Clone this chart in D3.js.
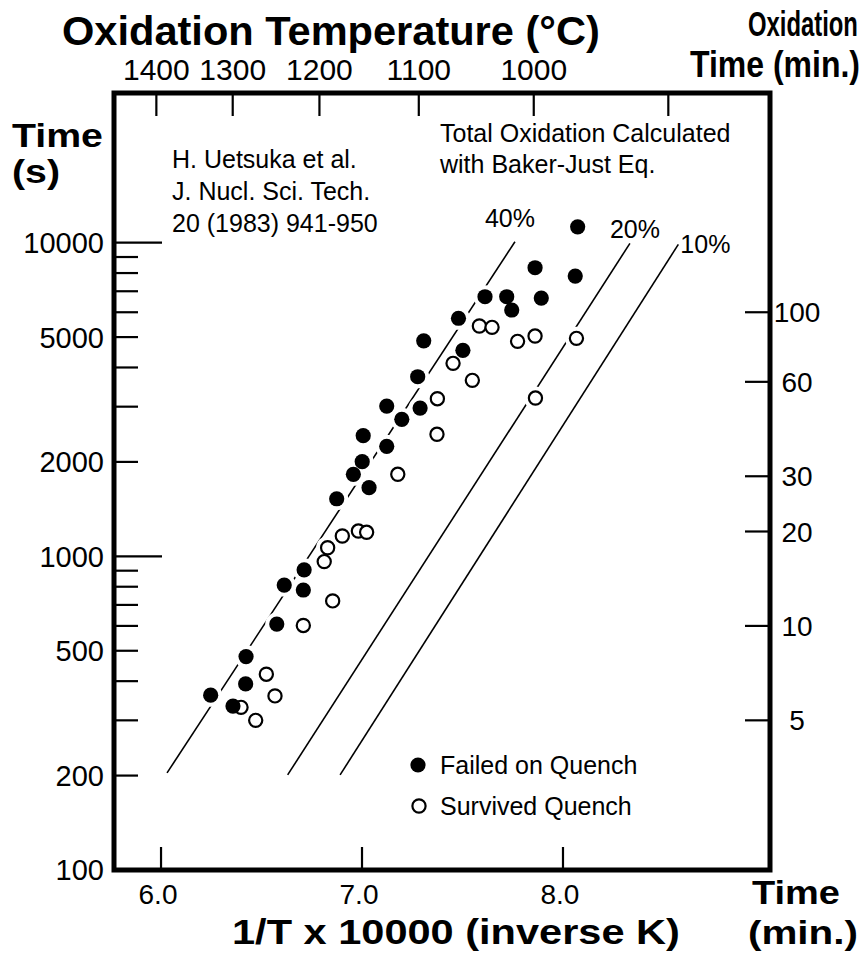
<!DOCTYPE html>
<html>
<head>
<meta charset="utf-8">
<script src="https://cdn.jsdelivr.net/npm/d3@7"></script>
<style>
  html, body { margin: 0; padding: 0; background: #fff; }
  svg { display: block; }
  text { font-family: "Liberation Sans", Arial, Helvetica, sans-serif; fill: #000; }
</style>
</head>
<body>
<svg id="chart" width="867" height="955"></svg>
<script>
// ---------------- DATA ----------------
// Failed on quench: x = 1/T x 10000 (1/K), t = oxidation time (s)
const failedX = [6.247, 6.358, 6.423, 6.421, 6.576, 6.613, 6.708, 6.712, 6.874, 6.957,
                 7.001, 7.006, 7.035, 7.123, 7.123, 7.198, 7.277, 7.289, 7.307, 7.480,
                 7.502, 7.612, 7.720, 7.745, 7.861, 7.892, 8.073, 8.061];
const failedT = [361, 333, 479, 392, 608, 810, 781, 906, 1526, 1826,
                 2003, 2424, 1655, 2242, 3014, 2734, 3737, 2970, 4864, 5741,
                 4537, 6724, 6724, 6099, 8318, 6659, 11236, 7825];
// Survived quench
const survivedX = [6.398, 6.471, 6.524, 6.567, 6.708, 6.854, 6.812, 6.829, 6.902, 6.982,
                   7.023, 7.178, 7.375, 7.373, 7.453, 7.549, 7.584, 7.647, 7.774, 7.861,
                   7.863, 8.067];
const survivedT = [330, 300, 421, 359, 602, 721, 962, 1065, 1161, 1204,
                   1193, 1826, 3180, 2449, 4123, 3640, 5424, 5370, 4846, 5039,
                   3196, 4954];
// Baker-Just total oxidation lines (end points)
const lineLabels = ["40%", "20%", "10%"];
const lineX0 = [6.030, 6.630, 6.891];
const lineT0 = [204, 201, 201];
const lineX1 = [7.761, 8.333, 8.574];
const lineT1 = [10067, 9949, 9877];

// Axes
const xTicks = [6, 7, 8];
const xTickLabels = ["6.0", "7.0", "8.0"];
const leftLabelValues = [100, 200, 500, 1000, 2000, 5000, 10000];
const leftLongTicks = [1000, 10000];
const tempTicksC = [1400, 1300, 1200, 1100, 1000, 900];
const tempTickLabels = ["1400", "1300", "1200", "1100", "1000", ""];
const minuteTicks = [100, 60, 30, 20, 10, 5];

const citation = ["H. Uetsuka et al.", "J. Nucl. Sci. Tech.", "20 (1983) 941-950"];
const noteLines = ["Total Oxidation Calculated", "with Baker-Just Eq."];
const legendLabels = ["Failed on Quench", "Survived Quench"];

// ---------------- CHART ----------------
const svg = d3.select("#chart");
const L = 114, R = 770, T = 93, B = 870;

const x = d3.scaleLinear().domain([5.766, 9.03]).range([L, R]);
const y = d3.scaleLog().domain([100, 30000]).range([B, T]);
const toK = c => 10000 / (c + 273.15);

// lines
const lineData = lineLabels.map((l, i) => ({label: l, x0: lineX0[i], t0: lineT0[i], x1: lineX1[i], t1: lineT1[i]}));
svg.append("g").selectAll("line").data(lineData).join("line")
  .attr("x1", d => x(d.x0)).attr("y1", d => y(d.t0))
  .attr("x2", d => x(d.x1)).attr("y2", d => y(d.t1))
  .attr("stroke", "#000").attr("stroke-width", 1.6);

// line labels
const lblOff = [[-5, -15, "middle"], [5, -5, "middle"], [2, 9, "start"]];
svg.append("g").selectAll("text").data(lineData).join("text")
  .attr("x", (d, i) => x(d.x1) + lblOff[i][0])
  .attr("y", (d, i) => y(d.t1) + lblOff[i][1])
  .attr("text-anchor", (d, i) => lblOff[i][2])
  .attr("font-size", 25)
  .text(d => d.label);

// points
const failed = failedX.map((v, i) => ({x: v, t: failedT[i]}));
const survived = survivedX.map((v, i) => ({x: v, t: survivedT[i]}));
const all = failed.concat(survived);
// white halos (break the lines around points)
svg.append("g").selectAll("circle").data(all).join("circle")
  .attr("cx", d => x(d.x)).attr("cy", d => y(d.t)).attr("r", 11.5).attr("fill", "#fff");
svg.append("g").selectAll("circle").data(survived).join("circle")
  .attr("cx", d => x(d.x)).attr("cy", d => y(d.t)).attr("r", 6.6)
  .attr("fill", "#fff").attr("stroke", "#000").attr("stroke-width", 2.2);
svg.append("g").selectAll("circle").data(failed).join("circle")
  .attr("cx", d => x(d.x)).attr("cy", d => y(d.t)).attr("r", 7.6).attr("fill", "#000");

// frame
svg.append("rect").attr("x", L).attr("y", T).attr("width", R - L).attr("height", B - T)
  .attr("fill", "none").attr("stroke", "#000").attr("stroke-width", 5);

// left axis ticks (log ticks)
const leftTicks = y.ticks().filter(v => v > 100 && v <= 10000);
svg.append("g").selectAll("line").data(leftTicks).join("line")
  .attr("x1", L).attr("x2", d => leftLongTicks.includes(d) ? L + 48 : L + 24)
  .attr("y1", d => y(d)).attr("y2", d => y(d))
  .attr("stroke", "#000").attr("stroke-width", 2.2);
svg.append("g").selectAll("text").data(leftLabelValues).join("text")
  .attr("x", 104).attr("y", d => y(d)).attr("dy", "0.36em")
  .attr("text-anchor", "end").attr("font-size", 29)
  .text(d => d);

// right axis (minutes)
svg.append("g").selectAll("line").data(minuteTicks).join("line")
  .attr("x1", R - 25).attr("x2", R)
  .attr("y1", d => y(d * 60)).attr("y2", d => y(d * 60))
  .attr("stroke", "#000").attr("stroke-width", 2.2);
svg.append("g").selectAll("text").data(minuteTicks).join("text")
  .attr("x", 797).attr("y", d => y(d * 60)).attr("dy", "0.36em")
  .attr("text-anchor", "middle").attr("font-size", 28)
  .text(d => d);

// bottom axis
svg.append("g").selectAll("line").data(xTicks).join("line")
  .attr("x1", d => x(d)).attr("x2", d => x(d))
  .attr("y1", B).attr("y2", B - 23)
  .attr("stroke", "#000").attr("stroke-width", 2.2);
svg.append("g").selectAll("text").data(xTicks).join("text")
  .attr("x", d => x(d) - 3).attr("y", 904)
  .attr("text-anchor", "middle").attr("font-size", 28)
  .text((d, i) => xTickLabels[i]);

// top axis (temperature)
svg.append("g").selectAll("line").data(tempTicksC).join("line")
  .attr("x1", d => x(toK(d))).attr("x2", d => x(toK(d)))
  .attr("y1", T).attr("y2", T + 23)
  .attr("stroke", "#000").attr("stroke-width", 2.2);
svg.append("g").selectAll("text").data(tempTicksC).join("text")
  .attr("x", d => x(toK(d))).attr("y", 80)
  .attr("text-anchor", "middle").attr("font-size", 30)
  .text((d, i) => tempTickLabels[i]);

// bold titles: drawn at their natural size, then squeezed horizontally
// with a transform so that they occupy the measured width
function bold(txt, xx, yy, size, len) {
  const t = svg.append("text").attr("x", 0).attr("y", 0)
    .attr("font-size", size).attr("font-weight", "bold")
    .text(txt);
  const w = t.node().getComputedTextLength();
  t.attr("transform", `translate(${xx},${yy}) scale(${len / w},1)`);
}
bold("Oxidation Temperature (°C)", 62, 45, 40, 538);
bold("Oxidation", 748, 36, 36, 110);
bold("Time (min.)", 690, 77, 36, 170);
bold("Time", 12, 147, 34, 91);
bold("(s)", 12, 183, 34, 48);
bold("Time", 752, 904, 34, 88);
bold("(min.)", 748, 944, 34, 110);
bold("1/T x 10000 (inverse K)", 232, 944, 36, 448);

// annotations
svg.append("g").selectAll("text").data(citation).join("text")
  .attr("x", 172).attr("y", (d, i) => 168 + i * 32)
  .attr("font-size", 25).text(d => d);
svg.append("g").selectAll("text").data(noteLines).join("text")
  .attr("x", 440).attr("y", (d, i) => 142 + i * 31)
  .attr("font-size", 25).text(d => d);

// legend
const lg = svg.append("g");
lg.append("circle").attr("cx", 418).attr("cy", 765).attr("r", 7.6).attr("fill", "#000");
lg.append("circle").attr("cx", 419).attr("cy", 806).attr("r", 6.6)
  .attr("fill", "#fff").attr("stroke", "#000").attr("stroke-width", 2.2);
lg.selectAll("text.lg").data(legendLabels).join("text").attr("class", "lg")
  .attr("x", 440).attr("y", (d, i) => 774 + i * 41)
  .attr("font-size", 25).text(d => d);
</script>
</body>
</html>
